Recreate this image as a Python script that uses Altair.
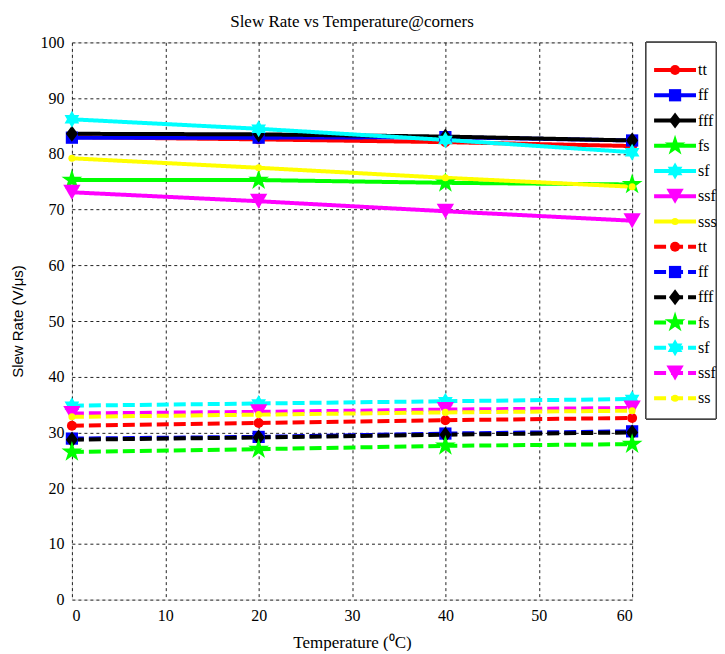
import altair as alt
import pandas as pd

temps = [0, 20, 40, 60]
labels = ["tt", "ff", "fff", "fs", "sf", "ssf", "sss", "tt", "ff", "fff", "fs", "sf", "ssf", "ss"]
keys = [f"{l}_{i}" for i, l in enumerate(labels)]
styles = ["solid"] * 7 + ["dashed"] * 7
values = [
    [83.0, 82.6, 82.1, 81.4],   # tt solid
    [82.9, 82.9, 83.0, 82.4],   # ff solid
    [83.6, 83.5, 83.1, 82.4],   # fff solid
    [75.3, 75.3, 74.8, 74.5],   # fs solid
    [86.2, 84.5, 82.5, 80.3],   # sf solid
    [73.1, 71.5, 69.7, 68.0],   # ssf solid
    [79.2, 77.5, 75.7, 74.1],   # sss solid
    [31.2, 31.7, 32.2, 32.6],   # tt dashed
    [28.9, 29.2, 29.8, 30.2],   # ff dashed
    [28.7, 29.1, 29.6, 30.0],   # fff dashed
    [26.5, 27.0, 27.6, 27.9],   # fs dashed
    [34.8, 35.2, 35.6, 36.0],   # sf dashed
    [33.4, 33.7, 34.1, 34.4],   # ssf dashed
    [32.8, 33.2, 33.6, 33.9],   # ss dashed
]
base_colors = ["#ff0000", "#0000ff", "#000000", "#00ff00", "#00ffff", "#ff00ff", "#ffff00"]
colors = base_colors * 2
hexagram = "M0,-1L0.289,-0.5L0.866,-0.5L0.577,0L0.866,0.5L0.289,0.5L0,1L-0.289,0.5L-0.866,0.5L-0.577,0L-0.866,-0.5L-0.289,-0.5Z"
pentagram = ("M0,-1L0.2245,-0.309L0.951,-0.309L0.363,0.118L0.588,0.809L0,0.382"
             "L-0.588,0.809L-0.363,0.118L-0.951,-0.309L-0.2245,-0.309Z")
diamond = "M0,-1L0.75,0L0,1L-0.75,0Z"
base_shapes = ["circle", "square", diamond, pentagram, hexagram, "triangle-down", "circle"]
base_sizes = [100, 150, 260, 480, 290, 300, 50]

rows = []
for k, lab, st, vals in zip(keys, labels, styles, values):
    for t, v in zip(temps, vals):
        rows.append({"key": k, "label": lab, "style": st, "temp": t, "value": v})
df = pd.DataFrame(rows)
leg = pd.DataFrame({"key": keys, "label": labels, "style": styles})

W, H = 561, 558
serif = "Liberation Serif"

color = alt.Color("key:N", scale=alt.Scale(domain=keys, range=colors), legend=None)
dash = alt.StrokeDash("style:N", scale=alt.Scale(domain=["solid", "dashed"], range=[[1, 0], [12, 5]]), legend=None)

x = alt.X("temp:Q", scale=alt.Scale(domain=[0, 60], nice=False),
          axis=alt.Axis(values=[0, 10, 20, 30, 40, 50, 60], title="Temperature (\u2070C)",
                        titleFont=serif, titleFontSize=17, titleFontWeight="normal", titlePadding=11,
                        labelFont=serif, labelFontSize=16, labelPadding=8, ticks=False,
                        grid=True, gridDash=[3, 3], gridColor="#222", gridOpacity=1,
                        domain=False, labelColor="black", titleColor="black"))
y = alt.Y("value:Q", scale=alt.Scale(domain=[0, 100], nice=False),
          axis=alt.Axis(values=list(range(0, 101, 10)), title="Slew Rate (V/\u03bcs)",
                        titleFont="Liberation Sans", titleFontSize=15, titleFontWeight="normal", titlePadding=14,
                        labelFont=serif, labelFontSize=16, labelPadding=8, ticks=False,
                        grid=True, gridDash=[3, 3], gridColor="#222", gridOpacity=1,
                        domain=False, labelColor="black", titleColor="black"))

lines = alt.Chart(df).mark_line(strokeWidth=4).encode(x=x, y=y, color=color, strokeDash=dash, detail="key:N")
point_layers = []
for i in range(7):
    grp = [keys[i], keys[i + 7]]
    point_layers.append(
        alt.Chart(df).transform_filter(alt.FieldOneOfPredicate(field="key", oneOf=grp))
        .mark_point(filled=True, opacity=1, shape=base_shapes[i], size=base_sizes[i])
        .encode(x=x, y=y, color=color)
    )
main = alt.layer(lines, *point_layers)

ly = alt.Y("key:N", sort=keys, scale=alt.Scale(type="point", domain=keys, range=[15, 369]), axis=None)
box = alt.Chart(leg).mark_rect(fill="white", stroke="#444", strokeWidth=1).encode(
    x=alt.value(575), x2=alt.value(645), y=alt.value(0), y2=alt.value(377))
leg_lines = alt.Chart(leg).mark_rule(strokeWidth=4).encode(
    x=alt.value(583), x2=alt.value(625), y=ly, color=color, strokeDash=dash)
leg_point_layers = []
for i in range(7):
    grp = [keys[i], keys[i + 7]]
    leg_point_layers.append(
        alt.Chart(leg).transform_filter(alt.FieldOneOfPredicate(field="key", oneOf=grp))
        .mark_point(filled=True, opacity=1, shape=base_shapes[i], size=base_sizes[i])
        .encode(x=alt.value(604), y=ly, color=color)
    )
leg_text = alt.Chart(leg).mark_text(align="left", baseline="middle", font=serif, fontSize=16, dx=0).encode(
    x=alt.value(627), y=ly, text="label:N", color=alt.value("black"))

legend_layer = alt.layer(box, leg_lines, *leg_point_layers, leg_text)

chart = alt.layer(main, legend_layer).resolve_scale(y="independent").properties(
    width=W, height=H,
    padding={"left": 3, "top": 5, "right": 0, "bottom": 0},
    title=alt.Title("Slew Rate vs Temperature@corners", font=serif, fontSize=17, fontWeight="normal",
                    color="black", offset=3, anchor="middle"),
).configure_view(stroke="#555", strokeWidth=1.5).configure(background="white")

chart.save("out.html", embed_options={"renderer": "svg", "actions": False})
